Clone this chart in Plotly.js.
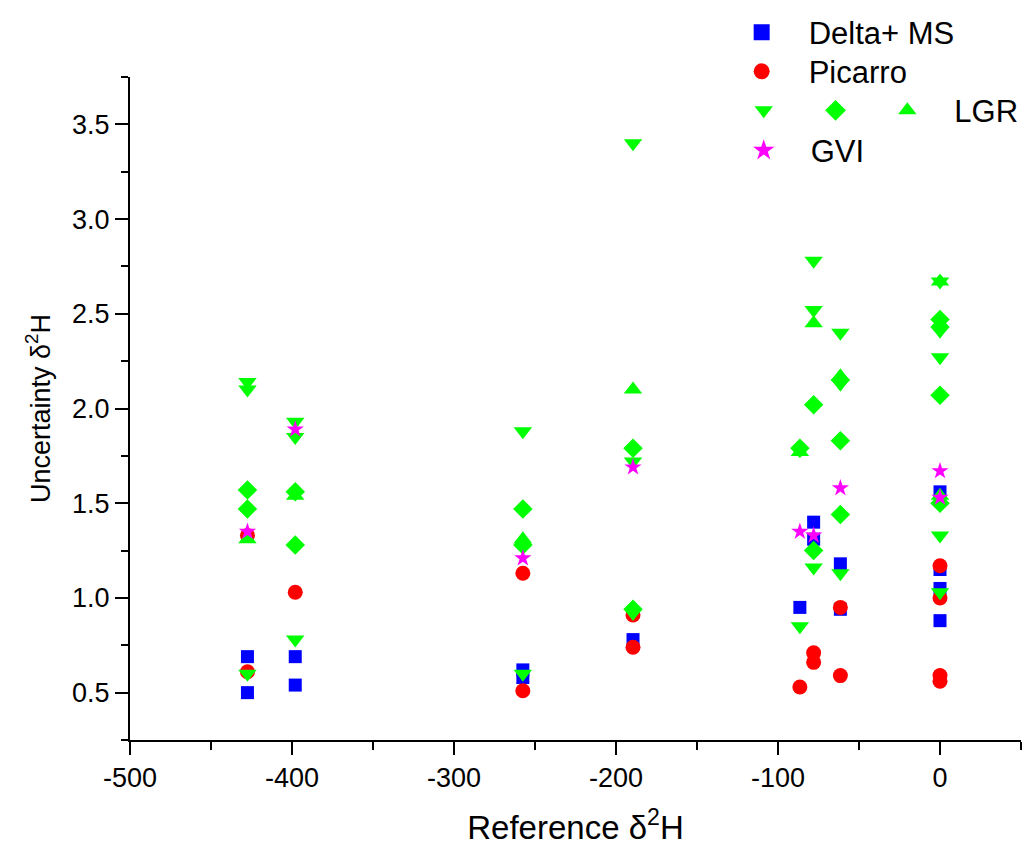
<!DOCTYPE html>
<html>
<head>
<meta charset="utf-8">
<script src="https://cdn.plot.ly/plotly-3.0.1.min.js"></script>
<style>
  html, body { margin: 0; padding: 0; background: #fff; }
  #chart { width: 1025px; height: 846px; }
</style>
</head>
<body>
<div id="chart"></div>
<script>
// ---- data ----
var deltaX = [-427.5, -427.5, -398, -398, -257.5, -257.5, -189.5, -86.5, -78, -78, -61.5, -61.5, 0, 0, 0, 0];
var deltaY = [0.69, 0.50, 0.69, 0.54, 0.62, 0.58, 0.78, 0.95, 1.40, 1.31, 1.18, 0.94, 1.56, 1.15, 1.05, 0.88];

var picarroX = [-427.5, -427.5, -398, -257.5, -257.5, -189.5, -189.5, -86.5, -78, -78, -61.5, -61.5, 0, 0, 0, 0];
var picarroY = [1.33, 0.61, 1.03, 1.13, 0.51, 0.91, 0.74, 0.53, 0.71, 0.66, 0.95, 0.59, 1.17, 1.00, 0.59, 0.56];

var lgrDownX = [-427.5, -427.5, -427.5, -398, -398, -398, -257.5, -257.5, -189.5, -189.5, -189.5, -86.5, -78, -78, -78, -61.5, -61.5, -61.5, 0, 0, 0, 0, 0];
var lgrDownY = [2.14, 2.10, 0.60, 1.93, 1.85, 0.78, 1.88, 0.60, 3.40, 1.72, 0.92, 0.85, 2.78, 2.52, 1.16, 2.40, 2.13, 1.13, 2.67, 2.41, 2.27, 1.33, 1.03];

var lgrDiamondX = [-427.5, -427.5, -398, -398, -257.5, -257.5, -189.5, -189.5, -86.5, -78, -78, -61.5, -61.5, -61.5, 0, 0, 0, 0];
var lgrDiamondY = [1.57, 1.47, 1.56, 1.28, 1.47, 1.28, 1.79, 0.94, 1.79, 2.02, 1.25, 2.15, 1.83, 1.44, 2.47, 2.43, 2.07, 1.50];

var lgrUpX = [-427.5, -398, -257.5, -189.5, -86.5, -78, -61.5, 0, 0];
var lgrUpY = [1.31, 1.54, 1.31, 2.10, 1.77, 2.45, 2.17, 2.67, 1.54];

var gviX = [-427.5, -398, -257.5, -189.5, -86.5, -78, -61.5, 0, 0];
var gviY = [1.35, 1.89, 1.21, 1.69, 1.35, 1.33, 1.58, 1.67, 1.53];

var seriesNames = ['Delta+ MS', 'Picarro', '', '', 'LGR', 'GVI'];

var xTickVals = [-500, -400, -300, -200, -100, 0];
var xTickText = ['-500', '-400', '-300', '-200', '-100', '0'];
var yTickVals = [0.5, 1.0, 1.5, 2.0, 2.5, 3.0, 3.5];
var yTickText = ['0.5', '1.0', '1.5', '2.0', '2.5', '3.0', '3.5'];

// ---- chart ----
var FONT = 'Liberation Sans, Arial, Helvetica, sans-serif';

var styles = [
  { symbol: 'square',        color: '#0000FF', size: 13, legend: 'legend'  },
  { symbol: 'circle',        color: '#FF0000', size: 15, legend: 'legend2' },
  { symbol: 'triangle-down', color: '#00FF00', size: 16, legend: 'legend3' },
  { symbol: 'diamond',       color: '#00FF00', size: 15, legend: 'legend4' },
  { symbol: 'triangle-up',   color: '#00FF00', size: 16, legend: 'legend5' },
  { symbol: 'star',          color: '#FF00FF', size: 13, legend: 'legend6' }
];
var xs = [deltaX, picarroX, lgrDownX, lgrDiamondX, lgrUpX, gviX];
var ys = [deltaY, picarroY, lgrDownY, lgrDiamondY, lgrUpY, gviY];

var traces = [];
// data traces (drawn in this order: squares, circles, LGR, stars on top)
for (var i = 0; i < 6; i++) {
  traces.push({
    type: 'scatter', mode: 'markers', x: xs[i], y: ys[i], name: seriesNames[i],
    showlegend: false,
    marker: { symbol: styles[i].symbol, color: styles[i].color, size: styles[i].size, line: { width: 0 } }
  });
}
// legend keys (empty traces, larger symbols like the reference legend)
for (var j = 0; j < 6; j++) {
  traces.push({
    type: 'scatter', mode: 'markers', x: [null], y: [null], name: seriesNames[j],
    legend: styles[j].legend, showlegend: true,
    marker: { symbol: styles[j].symbol, color: styles[j].color, size: 16, line: { width: 0 } }
  });
}

var axisCommon = {
  showline: true, linecolor: '#000', linewidth: 2,
  showgrid: false, zeroline: false, mirror: false,
  ticks: 'outside', ticklen: 13, tickwidth: 2, tickcolor: '#000',
  tickmode: 'array',
  tickfont: { family: FONT, size: 27, color: '#000' }
};

function legendAt(x, y) {
  return {
    x: x, xanchor: 'left', y: y, yanchor: 'top',
    orientation: 'v', itemwidth: 84, bgcolor: 'rgba(0,0,0,0)', borderwidth: 0,
    font: { family: FONT, size: 31, color: '#000' }
  };
}

var layout = {
  width: 1025, height: 846,
  paper_bgcolor: '#fff', plot_bgcolor: '#fff',
  margin: { l: 130, r: 2, t: 77, b: 106 },
  font: { family: FONT, color: '#000' },
  xaxis: Object.assign({}, axisCommon, {
    range: [-500, 50],
    tickvals: xTickVals, ticktext: xTickText,
    minor: { tickmode: 'linear', tick0: -500, dtick: 50, ticks: 'outside', ticklen: 8, tickwidth: 2, tickcolor: '#000' },
    title: { text: 'Reference δ<sup>2</sup>H', font: { family: FONT, size: 33, color: '#000' }, standoff: 24 }
  }),
  yaxis: Object.assign({}, axisCommon, {
    range: [0.25, 3.75],
    tickvals: yTickVals, ticktext: yTickText,
    minor: { tickmode: 'linear', tick0: 0.25, dtick: 0.25, ticks: 'outside', ticklen: 7, tickwidth: 2, tickcolor: '#000' },
    title: { text: 'Uncertainty δ<sup>2</sup>H', font: { family: FONT, size: 27, color: '#000' }, standoff: 14 }
  }),
  legend:  legendAt(0.6562, 1.1076),
  legend2: legendAt(0.6562, 1.0487),
  legend3: legendAt(0.6585, 0.9899),
  legend4: legendAt(0.7391, 0.9899),
  legend5: legendAt(0.8197, 0.9899),
  legend6: legendAt(0.6585, 0.9296),
  showlegend: true
};

Plotly.newPlot('chart', traces, layout, { displayModeBar: false, staticPlot: true });
</script>
</body>
</html>
